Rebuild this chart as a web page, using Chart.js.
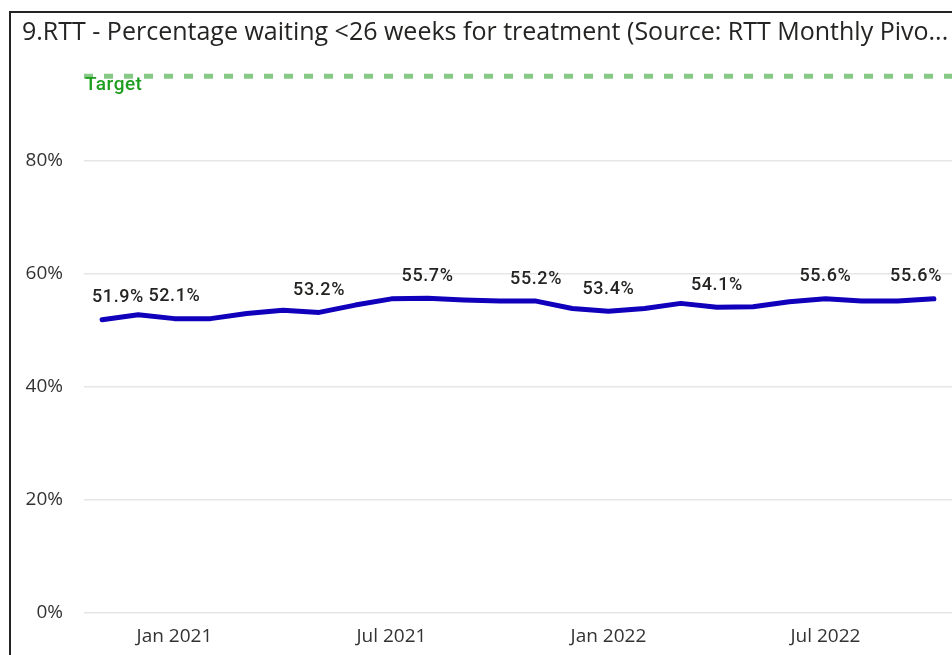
<!DOCTYPE html>
<html>
<head>
<meta charset="utf-8">
<script src="https://cdn.jsdelivr.net/npm/chart.js@4.4.0/dist/chart.umd.min.js"></script>
<style>
  html, body { margin: 0; padding: 0; background: #fff; overflow: hidden; }
  #frame { position: absolute; left: 9px; top: 11px; width: 1000px; height: 700px; border: 2px solid #252423; }
  #wrap { position: absolute; left: 0; top: 0; width: 952px; height: 655px; }
</style>
</head>
<body>
<div id="frame"></div>
<div id="wrap"><canvas id="chart"></canvas></div>
<script>
const months = ["Nov 2020", "Dec 2020", "Jan 2021", "Feb 2021", "Mar 2021", "Apr 2021", "May 2021", "Jun 2021",
    "Jul 2021", "Aug 2021", "Sep 2021", "Oct 2021", "Nov 2021", "Dec 2021", "Jan 2022", "Feb 2022",
    "Mar 2022", "Apr 2022", "May 2022", "Jun 2022", "Jul 2022", "Aug 2022", "Sep 2022", "Oct 2022"];
const rttPct = [51.9, 52.8, 52.1, 52.1, 53.0, 53.6, 53.2, 54.5, 55.6, 55.7, 55.4, 55.2,
    55.2, 53.9, 53.4, 53.9, 54.8, 54.1, 54.2, 55.1, 55.6, 55.2, 55.2, 55.6];
const target = 95;
const xTickLabels = ["Jan 2021", "Jul 2021", "Jan 2022", "Jul 2022"];
const yTickValues = [0, 20, 40, 60, 80];
const labelledMonths = ["Nov 2020", "Jan 2021", "May 2021", "Aug 2021", "Nov 2021", "Jan 2022", "Apr 2022", "Jul 2022", "Oct 2022"];

// dashed target line with its label

const targetLine = {
    id: "targetLine",
    beforeDatasetsDraw(chart) {
        const { ctx, chartArea, scales } = chart;
        const y = scales.y.getPixelForValue(target);
        ctx.save();
        ctx.strokeStyle = "#86c986";
        ctx.lineWidth = 5;
        ctx.setLineDash([9, 11]);
        ctx.beginPath();
        ctx.moveTo(chartArea.left, y);
        ctx.lineTo(chartArea.right, y);
        ctx.stroke();
        ctx.font = "500 19px Roboto";
        ctx.letterSpacing = "0.5px";
        ctx.fillStyle = "#1e9e1e";
        ctx.textBaseline = "middle";
        ctx.fillText("Target", chartArea.left + 1, y + 9);
        ctx.restore();
    }
};

// value labels above selected points

const pointLabels = {
    id: "pointLabels",
    afterDatasetsDraw(chart) {
        const { ctx, chartArea } = chart;
        const meta = chart.getDatasetMeta(0);
        ctx.save();
        ctx.font = "500 18px Roboto";
        ctx.letterSpacing = "0.6px";
        ctx.fillStyle = "#252423";
        ctx.textBaseline = "middle";
        months.forEach((m, i) => {
            if (!labelledMonths.includes(m)) return;
            const pt = meta.data[i];
            const txt = rttPct[i].toFixed(1) + "%";
            const w = ctx.measureText(txt).width;
            let x = pt.x - w / 2;
            x = Math.max(chartArea.left + 8, Math.min(x, chartArea.right - 10 - w));
            ctx.fillText(txt, x, pt.y - 22);
        });
        ctx.restore();
    }
};

const chart = document.querySelector("#chart").getContext("2d");

new Chart(chart, {
    type: "line",
    data: {
        labels: months,
        datasets: [
            {
                label: "RTT <26 weeks",
                data: rttPct,
                borderColor: "#1100bb",
                borderWidth: 5,
                borderJoinStyle: "round",
                borderCapStyle: "round",
                pointRadius: 0,
                tension: 0
            }
        ]
    },
    options: {
        responsive: true,
        maintainAspectRatio: false,
        animation: false,
        layout: { padding: { left: 22, right: 0, top: 0, bottom: 0 } },
        plugins: {
            legend: { display: false },
            tooltip: { enabled: false },
            title: {
                display: true,
                text: "9.RTT - Percentage waiting <26 weeks for treatment (Source: RTT Monthly Pivo...",
                align: "start",
                color: "#252423",
                font: { family: "'Open Sans'", size: 25, weight: "normal" },
                padding: { top: 18, bottom: 0 }
            }
        },
        scales: {
            x: {
                offset: true,
                grid: { display: false },
                border: { display: false },
                afterFit: (scale) => { scale.height = 42; },
                ticks: {
                    autoSkip: false,
                    maxRotation: 0,
                    padding: 4,
                    color: "#333",
                    font: { family: "'Open Sans'", size: 19 },
                    callback: (v, i) => xTickLabels.includes(months[i]) ? months[i] : ""
                }
            },
            y: {
                min: 0,
                max: 100,
                border: { display: false },
                grid: { color: "#e6e6e6", lineWidth: 1.5, drawTicks: false },
                afterFit: (scale) => { scale.width = 62; },
                afterBuildTicks: (scale) => { scale.ticks = yTickValues.map(v => ({ value: v })); },
                ticks: {
                    padding: 21,
                    color: "#333",
                    font: { family: "'Open Sans'", size: 19 },
                    callback: (v) => v + "%"
                }
            }
        }
    },
    plugins: [targetLine, pointLabels]
});
</script>
</body>
</html>
